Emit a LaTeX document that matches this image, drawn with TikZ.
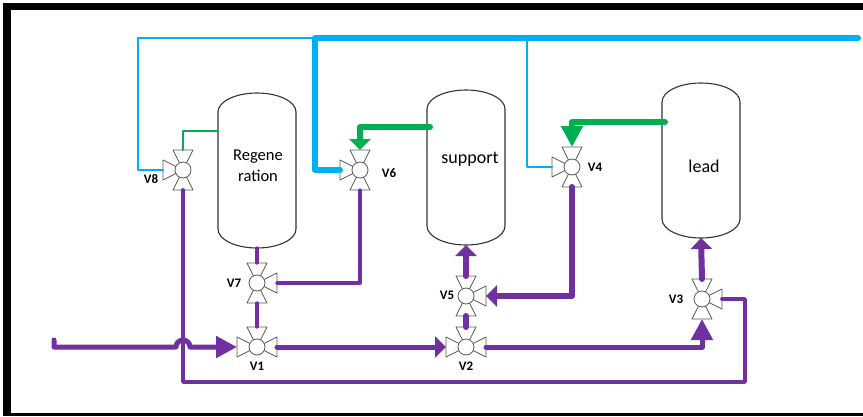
\documentclass[tikz,border=0pt]{standalone}
\usepackage{fontspec}
\setmainfont{Carlito}
\usepackage{xcolor}
\usetikzlibrary{arrows.meta, positioning}
\definecolor{pipeblue}{HTML}{00B0F0}
\definecolor{pipegreen}{HTML}{00B050}
\definecolor{pipepurple}{HTML}{7030A0}

\begin{document}
\begin{tikzpicture}[x=1pt, y=-1pt, line join=round, line cap=round,
    valve/.style={rectangle, minimum size=40pt, inner sep=0pt, outer sep=0pt},
    tank/.style={rectangle, minimum width=78pt, minimum height=155pt, inner sep=0pt, outer sep=0pt},
    tag/.style={font=\fontsize{13}{15}\selectfont\bfseries, inner sep=0pt},
    tanktext/.style={font=\fontsize{18}{21}\selectfont, align=center, inner sep=0pt},
    thinpipe/.style={line width=2pt},
    midpipe/.style={line width=3.3pt},
    returnpipe/.style={line width=3.8pt},
    widepipe/.style={line width=5pt},
    fatpipe/.style={line width=6pt},
    shorthead/.style={-{Triangle[width=21pt, length=11pt]}},
    longhead/.style={-{Triangle[width=21pt, length=21pt]}}]

    \useasboundingbox (0,0) rectangle (863,416);
    \fill[black] (3,2.5) rectangle (863,10);
    \fill[black] (3,2.5) rectangle (11,416);
    \fill[black] (3,413) rectangle (863,416);

    % tanks
    \foreach \name/\x/\y in {regen/257/170.5, support/466/167.5, lead/701/160.5} {
        \node[tank] (\name) at (\x,\y) {};
        \draw[line width=1.1pt, black!80] ([yshift=-19pt]\name.north west)
            arc[start angle=180, end angle=0, x radius=39pt, y radius=19pt]
            -- ([yshift=19pt]\name.south east)
            arc[start angle=0, end angle=-180, x radius=39pt, y radius=19pt] -- cycle;
    }
    \node[tanktext, font=\fontsize{16.5}{21}\selectfont] (regentext) at (258,165.5) {Regene\\ration};
    \node[tanktext] (supporttext) at (470,159) {support};
    \node[tanktext] (leadtext) at (704,166.5) {lead};

    % valves, the list gives where each triangle points
    \foreach \name/\x/\y/\sides in {V1/257/347/{0,180,90}, V2/466/347/{0,180,90},
        V3/702/299/{0,90,270}, V4/572/167/{180,90,270}, V5/466/296/{0,90,270},
        V6/360/170/{180,90,270}, V7/257/283/{0,90,270}, V8/183/170/{180,90,270}} {
        \node[valve] (\name) at (\x,\y) {};
        \foreach \a in \sides {
            \draw[black!65, line width=0.8pt, fill=white, shift={(\name.center)}, rotate=\a]
                (0,0) -- (20,10) -- (20,-10) -- cycle;
        }
        \draw[black!65, line width=0.8pt, fill=white] (\name.center) circle[radius=8pt];
    }
    \node[tag] (V1tag) at (257,366) {V1};
    \node[tag] (V2tag) at (466,366) {V2};
    \node[tag] (V3tag) at (676,299) {V3};
    \node[tag] (V4tag) at (595,167) {V4};
    \node[tag] (V5tag) at (447,295) {V5};
    \node[tag] (V6tag) at (389,173) {V6};
    \node[tag] (V7tag) at (234,283) {V7};
    \node[tag] (V8tag) at (151,179) {V8};

    \coordinate (bluein) at (858,38);
    \coordinate (blueturn) at (315,38);
    \coordinate (bluetee) at (527,38);
    \coordinate (feed) at (54,340);
    \coordinate (hop) at (176,347);

    % blue
    \draw[pipeblue, fatpipe] (bluein) -- (blueturn) |- (V6.west);
    \draw[pipeblue, thinpipe] (blueturn) -- (138,38) |- (V8.west);
    \draw[pipeblue, thinpipe] (bluetee) |- (V4.west);

    % green
    \draw[pipegreen, thinpipe] (218,131) -| (V8.north);
    \draw[pipegreen, fatpipe, shorthead] (430,127) -| (V6.north);
    \draw[pipegreen, fatpipe, longhead] (665,122) -| (V4.north);

    % purple
    \draw[pipepurple, returnpipe] (V8.south) |- (745,382) |- (V3.east);
    \draw[pipepurple, midpipe] (regen.south) -- (V7.north);
    \draw[pipepurple, midpipe] (V7.south) -- (V1.north);
    \draw[pipepurple, midpipe] (V7.east) -| (V6.south);
    \draw[pipepurple, widepipe, longhead] (feed) |- (hop)
        arc[start angle=180, end angle=0, radius=7pt] -- (V1.west);
    \draw[pipepurple, widepipe, shorthead] (V1.east) -- (V2.west);
    \draw[pipepurple, widepipe, longhead] (V2.east) -| (V3.south);
    \draw[pipepurple, fatpipe] (V2.north) -- (V5.south);
    \draw[pipepurple, fatpipe, shorthead] (V5.north) -- (support.south);
    \draw[pipepurple, fatpipe, shorthead] (V4.south) |- (V5.east);
    \draw[pipepurple, fatpipe, shorthead] (V3.north) -- (lead.south);

\end{tikzpicture}
\end{document}
